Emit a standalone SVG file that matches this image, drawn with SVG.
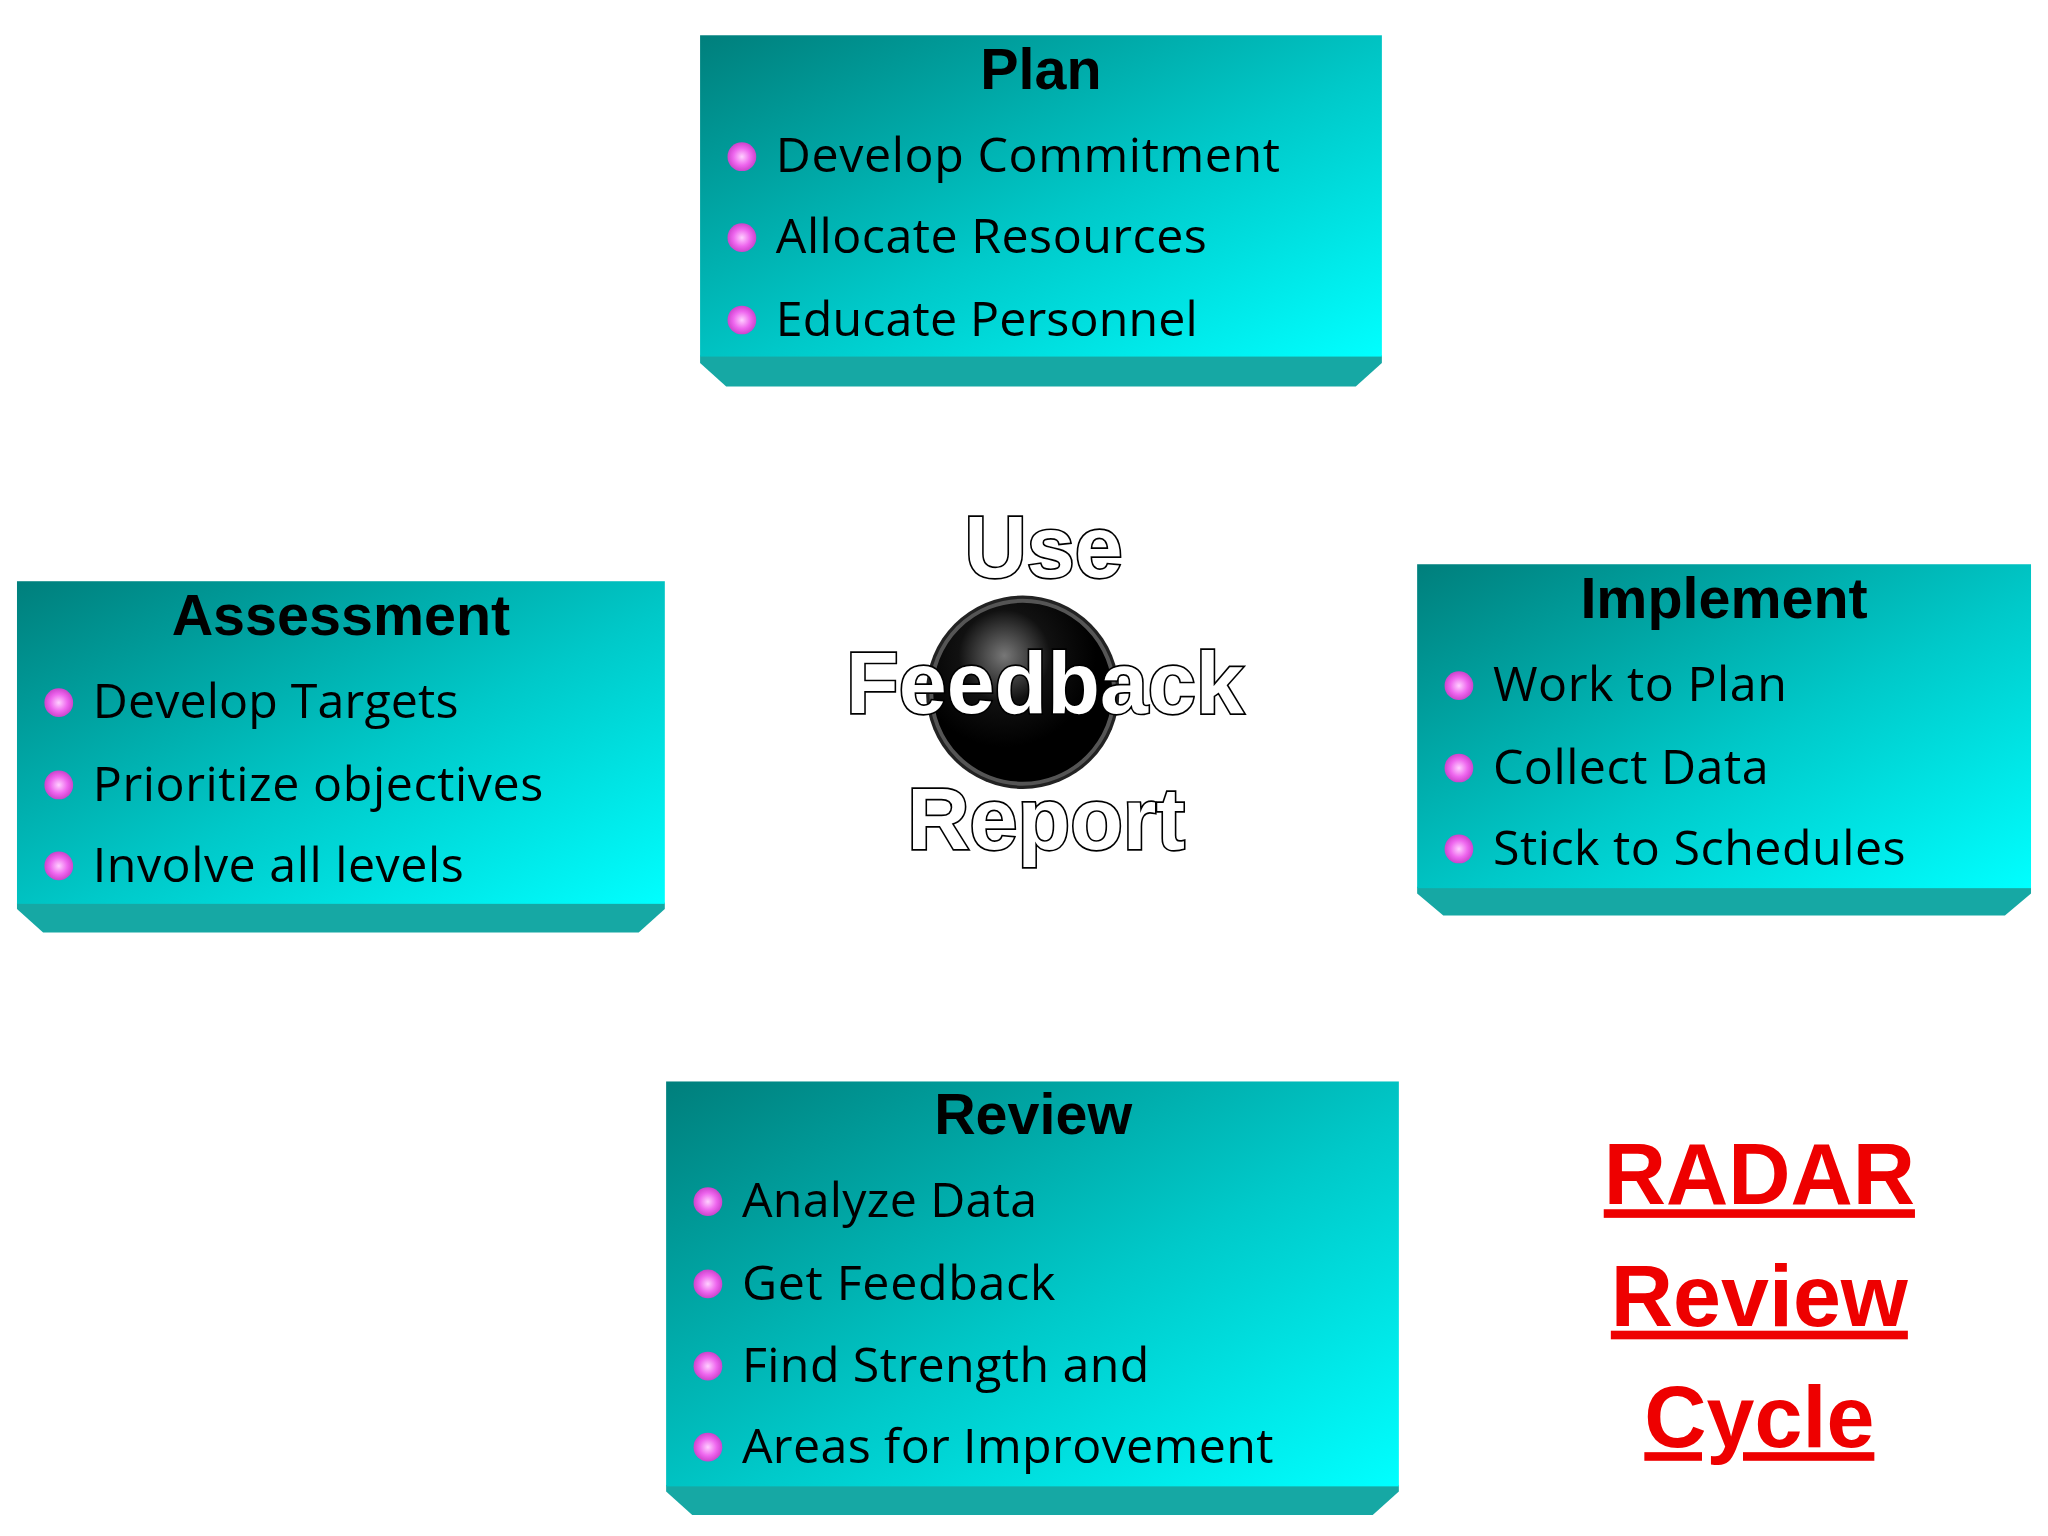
<svg xmlns="http://www.w3.org/2000/svg" width="2048" height="1536" viewBox="0 0 2048 1536">
<defs>
<linearGradient id="face" x1="0" y1="0" x2="1" y2="1">
<stop offset="0" stop-color="#007f7c"/><stop offset="0.55" stop-color="#00c9c9"/><stop offset="1" stop-color="#00ffff"/>
</linearGradient>
<radialGradient id="flower"><stop offset="0" stop-color="#ffd0ff"/><stop offset="0.6" stop-color="#ee66ee"/><stop offset="1" stop-color="#cc44cc"/></radialGradient>
<radialGradient id="disc" cx="0.4" cy="0.3"><stop offset="0" stop-color="#777"/><stop offset="0.5" stop-color="#111"/><stop offset="1" stop-color="#000"/></radialGradient>
</defs>
<style>
.bevel{fill:#16a8a4}
.title{font-family:"Liberation Sans",Arial,sans-serif;font-weight:bold;font-size:44px;fill:#000;text-anchor:middle}
.item{font-family:"Open Sans","Liberation Sans",sans-serif;font-size:37px;fill:#000}
.ctr{font-family:"Liberation Sans",Arial,sans-serif;font-weight:bold;font-size:66px;fill:#fff;stroke:#000;stroke-width:2.5;paint-order:stroke;text-anchor:middle}
.red{font-family:"Liberation Sans",Arial,sans-serif;font-weight:bold;font-size:66px;fill:#ee0000;text-anchor:middle;text-decoration:underline}
</style>
<rect width="2048" height="1536" fill="#fff"/>
<g transform="scale(1.30612)">
<g id="plan">
<polygon class="bevel" points="536,272 1058,272 1058,278 1038,296 556,296 536,278"/>
<rect x="536" y="27" width="522" height="246" fill="url(#face)"/>
<text class="title" x="797" y="68">Plan</text>
<circle cx="568" cy="120" r="11" fill="url(#flower)"/><text class="item" x="594" y="132" textLength="386">Develop Commitment</text>
<circle cx="568" cy="182" r="11" fill="url(#flower)"/><text class="item" x="594" y="194" textLength="330">Allocate Resources</text>
<circle cx="568" cy="245" r="11" fill="url(#flower)"/><text class="item" x="594" y="257" textLength="323">Educate Personnel</text>
</g>
<g id="assessment">
<polygon class="bevel" points="13,691 509,691 509,696 489,714 33,714 13,696"/>
<rect x="13" y="445" width="496" height="247" fill="url(#face)"/>
<text class="title" x="261" y="486">Assessment</text>
<circle cx="45" cy="538" r="11" fill="url(#flower)"/><text class="item" x="71" y="550" textLength="280">Develop Targets</text>
<circle cx="45" cy="601" r="11" fill="url(#flower)"/><text class="item" x="71" y="613" textLength="345">Prioritize objectives</text>
<circle cx="45" cy="663" r="11" fill="url(#flower)"/><text class="item" x="71" y="675" textLength="284">Involve all levels</text>
</g>
<g id="implement">
<polygon class="bevel" points="1085,679 1555,679 1555,684 1535,701 1105,701 1085,684"/>
<rect x="1085" y="432" width="470" height="248" fill="url(#face)"/>
<text class="title" x="1320" y="473">Implement</text>
<circle cx="1117" cy="525" r="11" fill="url(#flower)"/><text class="item" x="1143" y="537" textLength="225">Work to Plan</text>
<circle cx="1117" cy="588" r="11" fill="url(#flower)"/><text class="item" x="1143" y="600" textLength="211">Collect Data</text>
<circle cx="1117" cy="650" r="11" fill="url(#flower)"/><text class="item" x="1143" y="662" textLength="316">Stick to Schedules</text>
</g>
<g id="review">
<polygon class="bevel" points="510,1137 1071,1137 1071,1142 1051,1160 530,1160 510,1142"/>
<rect x="510" y="828" width="561" height="310" fill="url(#face)"/>
<text class="title" x="791" y="868">Review</text>
<circle cx="542" cy="920" r="11" fill="url(#flower)"/><text class="item" x="568" y="932" textLength="226">Analyze Data</text>
<circle cx="542" cy="983" r="11" fill="url(#flower)"/><text class="item" x="568" y="995" textLength="240">Get Feedback</text>
<circle cx="542" cy="1046" r="11" fill="url(#flower)"/><text class="item" x="568" y="1058" textLength="312">Find Strength and</text>
<circle cx="542" cy="1108" r="11" fill="url(#flower)"/><text class="item" x="568" y="1120" textLength="407">Areas for Improvement</text>
</g>
<g id="center">
<circle cx="783" cy="530" r="74" fill="#222"/>
<circle cx="783" cy="530" r="70" fill="url(#disc)" stroke="#555" stroke-width="3"/>
<text class="ctr" x="799" y="442">Use</text>
<text class="ctr" x="800" y="546">Feedback</text>
<text class="ctr" x="801" y="650">Report</text>
</g>
<g id="radar">
<text class="red" x="1347" y="922">RADAR</text>
<text class="red" x="1347" y="1015">Review</text>
<text class="red" x="1347" y="1108">Cycle</text>
</g>
<g id="connectors"/>
</g>
</svg>
